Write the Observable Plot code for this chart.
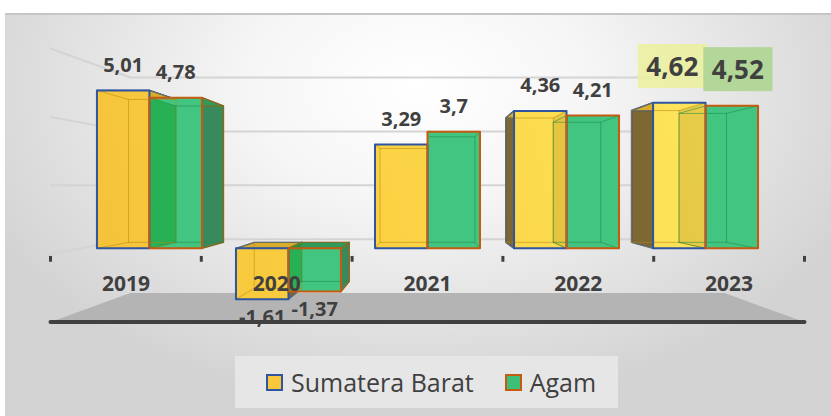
<!DOCTYPE html>
<html><head><meta charset="utf-8">
<script src="https://cdn.jsdelivr.net/npm/d3@7"></script>
<script src="https://cdn.jsdelivr.net/npm/@observablehq/plot@0.6"></script>
<style>
html,body{margin:0;padding:0;background:#fff;width:831px;height:416px;overflow:hidden;}
#bg{position:absolute;left:5px;top:13px;width:826px;height:403px;border-top:2px solid #c6c6c6;box-sizing:border-box;
background:radial-gradient(ellipse 58% 80% at 50% 18%, #ffffff 0%, #f6f6f6 35%, #d3d3d3 100%);}
#plot{position:absolute;left:0;top:0;}
#legend{position:absolute;left:235px;top:356px;width:383px;height:52px;background:#e6e6e6;display:flex;align-items:center;box-sizing:border-box;padding-left:31px;font-family:"Open Sans";font-size:25px;color:#404040;white-space:nowrap;}
.item{display:flex;align-items:center;margin-right:31px;}
.sw{width:13px;height:13px;border:2px solid;margin-right:8px;flex:none;}
</style></head><body>
<div id="bg"></div><div id="plot"></div><div id="legend"></div>
<script>
// ---- data ----
const years = ["2019", "2020", "2021", "2022", "2023"];
const sumateraBarat = [5.01, -1.61, 3.29, 4.36, 4.62];
const agam = [4.78, -1.37, 3.7, 4.21, 4.52];
const seriesNames = ["Sumatera Barat", "Agam"];
const valueTicks = [-2, 0, 2, 4, 6];
const highlightYear = "2023";

// ---- styles ----
const seriesStyle = [
  {front: "url(#gradYellow)", top: "#d9ad2c", side: "#7d6833", shade: "#8a6a00", shadeOpacity: 0.2, edge: "#b8890c", border: "#2f55a0", box: "rgba(236,240,160,0.9)", legend: "#f8c73c"},
  {front: "#41c580", top: "#2e9a5c", side: "#388a5c", shade: "#0a961e", shadeOpacity: 0.45, edge: "#1d8a46", border: "#c55a11", box: "rgba(176,214,148,0.95)", legend: "#3dbf79"}
];
const DEPTH = {axis: 1, front: 0.922, back: 0.834, wall: 0.788};
const HALF = 0.3775;

const yDomain = [valueTicks[0], valueTicks[valueTicks.length - 1]];
const C = (years.length - 1) / 2, M = (yDomain[0] + yDomain[1]) / 2;
const proj = (x, v, s) => ({x: C + (x - C) * s, y: M + (v - M) * s});
const poly = (id, pts, st) => pts.map(p => ({id, ...p, ...st}));

const bars = years.flatMap((year, i) => [sumateraBarat[i], agam[i]].map((value, k) => {
  const x0 = i - HALF + k * HALF, x1 = x0 + HALF;
  return {year, i, k, value, x0, x1, lo: Math.min(0, value), hi: Math.max(0, value)};
}));

const outer = [], tops = [], fronts = [[], []], shared = [[], []], inner = [];
bars.forEach((b, n) => {
  const st = seriesStyle[b.k];
  const F = (x, v) => proj(x, v, DEPTH.front), B = (x, v) => proj(x, v, DEPTH.back);
  const side = (x, id, extra) => poly(id, [F(x, b.lo), F(x, b.hi), B(x, b.hi), B(x, b.lo)], extra);
  let outerX = null, innerX = null;
  if (b.x1 < C) { outerX = b.x1; innerX = b.x0; }
  else if (b.x0 > C) { outerX = b.x0; innerX = b.x1; }
  if (outerX !== null) outer.push(...side(outerX, "o" + n, {fill: st.side, stroke: st.border}));
  if (innerX === b.i) shared[b.k].push(...side(innerX, "s" + n, {}));
  tops.push(...poly("t" + n, [F(b.x0, b.hi), F(b.x1, b.hi), B(b.x1, b.hi), B(b.x0, b.hi)], {fill: st.top, stroke: st.border}));
  fronts[b.k].push(...poly("f" + n, [F(b.x0, b.lo), F(b.x1, b.lo), F(b.x1, b.hi), F(b.x0, b.hi)], {}));
  inner.push(...poly("b" + n, [B(b.x0, b.lo), B(b.x1, b.lo), B(b.x1, b.hi), B(b.x0, b.hi), B(b.x0, b.lo)], {stroke: st.edge}));
  [[b.x0, b.lo], [b.x1, b.lo], [b.x1, b.hi], [b.x0, b.hi]].forEach(([x, v], j) =>
    inner.push(...poly("d" + n + "_" + j, [F(x, v), B(x, v)], {stroke: st.edge})));
});

const wallL = -0.5, wallR = years.length - 0.5;
const grid = valueTicks.filter(v => v > yDomain[0]).flatMap(v =>
  poly("g" + v, [proj(wallL, v, DEPTH.axis), proj(wallL, v, DEPTH.wall), proj(wallR, v, DEPTH.wall)], {}));
const floor = poly("floor", [proj(wallL, yDomain[0], DEPTH.axis), proj(wallR, yDomain[0], DEPTH.axis),
  proj(wallR, yDomain[0], DEPTH.wall), proj(wallL, yDomain[0], DEPTH.wall)], {});
const floorEdge = poly("edge", [proj(wallL, yDomain[0], DEPTH.axis), proj(wallR, yDomain[0], DEPTH.axis)], {});
const boundaries = d3.range(years.length + 1).map(j => j - 0.5);

const labels = bars.map(b => {
  const p = proj((b.x0 + b.x1) / 2, b.value, DEPTH.front);
  return {...b, px: p.x, py: p.y, label: String(b.value).replace(".", ",")};
});
const normal = labels.filter(d => d.year !== highlightYear);
const hl = labels.filter(d => d.year === highlightYear);

const L = {x: "x", y: "y", z: "id"};
const H = 350;
const textStyle = {fontWeight: "bold", fill: "#404040"};
const svg = Plot.plot({
  width: 831, height: H,
  marginLeft: 50, marginRight: 27, marginTop: 48, marginBottom: H - 321.6,
  x: {type: "linear", domain: [wallL, wallR], axis: null},
  y: {type: "linear", domain: yDomain, axis: null},
  style: {background: "transparent", fontFamily: "'Open Sans', sans-serif", overflow: "visible"},
  marks: [
    Plot.line(grid, {...L, stroke: "#d4d4d4", strokeWidth: 2}),
    Plot.line(floor, {...L, fill: "#b4b4b4", stroke: "none", curve: "linear-closed"}),
    Plot.ruleX(boundaries, {x: d => d, y1: -0.08, y2: -0.25, stroke: "#404040", strokeWidth: 3}),
    Plot.line(outer, {...L, fill: "fill", stroke: "stroke", strokeWidth: 1.5, curve: "linear-closed"}),
    Plot.line(tops, {...L, fill: "fill", stroke: "stroke", strokeWidth: 1.2, curve: "linear-closed"}),
    ...[0, 1].map(k => Plot.line(fronts[k], {...L, fill: seriesStyle[k].front, stroke: "none", curve: "linear-closed"})),
    ...[0, 1].map(k => Plot.line(shared[k], {...L, fill: seriesStyle[k].shade, fillOpacity: seriesStyle[k].shadeOpacity, stroke: "none", curve: "linear-closed"})),
    Plot.line(inner, {...L, stroke: "stroke", strokeWidth: 1, strokeOpacity: 0.55}),
    ...[0, 1].map(k => Plot.line(fronts[k], {...L, stroke: seriesStyle[k].border, strokeWidth: 2, curve: "linear-closed"})),
    Plot.text(years, {x: (d, i) => i, y: 0, dy: 31, text: d => d, fontSize: 21, ...textStyle}),
    Plot.text(normal.filter(d => d.value >= 0), {x: "px", y: "py", text: "label", dy: -25, fontSize: 20, ...textStyle}),
    Plot.text(normal.filter(d => d.value < 0), {x: "px", y: "py", text: "label", dy: 18, fontSize: 20, ...textStyle}),
    Plot.text(hl.filter(d => d.k === 0), {x: "px", y: "py", text: "label", dx: -7, dy: -35, fontSize: 26, ...textStyle, ariaDescription: "hl-0"}),
    Plot.text(hl.filter(d => d.k === 1), {x: "px", y: "py", text: "label", dx: 6, dy: -35, fontSize: 26, ...textStyle, ariaDescription: "hl-1"}),
    Plot.line(floorEdge, {...L, stroke: "#404040", strokeWidth: 4, strokeLinecap: "round"})
  ]
});
document.getElementById("plot").append(svg);

const NS = "http://www.w3.org/2000/svg";
const defs = document.createElementNS(NS, "defs");
defs.innerHTML = `<linearGradient id="gradYellow" gradientUnits="userSpaceOnUse" x1="100" y1="250" x2="700" y2="100">
  <stop offset="0" stop-color="#f5c33a"/><stop offset="0.45" stop-color="#fbd142"/><stop offset="1" stop-color="#fde55c"/></linearGradient>`;
svg.insertBefore(defs, svg.firstChild);

// highlight boxes behind the 2023 labels
const textGroups = Array.from(svg.querySelectorAll("g")).filter(g => g.querySelector(":scope > text"));
[0, 1].forEach(k => {
  let texts = Array.from(svg.querySelectorAll(`[aria-description="hl-${k}"] text`));
  if (!texts.length) {
    const want = hl.find(d => d.k === k).label;
    texts = Array.from(svg.querySelectorAll("text")).filter(t => t.textContent === want);
  }
  texts.forEach(t => {
    const bb = t.getBBox();
    const r = document.createElementNS(NS, "rect");
    const cy = bb.y + bb.height / 2;
    r.setAttribute("x", bb.x - 8.5); r.setAttribute("y", cy - 22);
    r.setAttribute("width", bb.width + 17); r.setAttribute("height", 44);
    r.setAttribute("fill", seriesStyle[k].box);
    if (t.getAttribute("transform")) r.setAttribute("transform", t.getAttribute("transform"));
    t.parentNode.insertBefore(r, t);
  });
});

// legend
const legend = d3.select("#legend");
seriesNames.forEach((name, k) => {
  const item = legend.append("div").attr("class", "item");
  item.append("div").attr("class", "sw").style("background", seriesStyle[k].legend).style("border-color", seriesStyle[k].border);
  item.append("span").text(name);
});
</script></body></html>
